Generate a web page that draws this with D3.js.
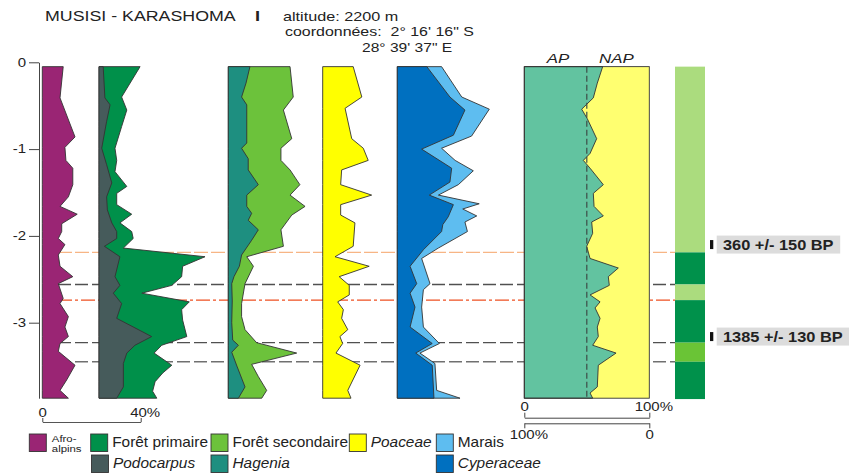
<!DOCTYPE html>
<html>
<head>
<meta charset="utf-8">
<script src="https://cdn.jsdelivr.net/npm/d3@7"></script>
<style>
  body { margin: 0; background: #fff; }
  svg { display: block; font-family: "Liberation Sans", Arial, sans-serif; }
</style>
</head>
<body>
<svg id="chart" width="849" height="475"></svg>
<script>
// [depth (m), percent]
const afroAlpins = [[-0.05,8.5],[-0.41,7.2],[-0.86,13.3],[-0.98,9.2],[-1.13,9.6],[-1.22,12.4],[-1.41,12.4],[-1.55,10.6],[-1.66,7.2],[-1.75,14.2],[-1.86,7.9],[-1.95,7.9],[-2.03,6.5],[-2.10,9.2],[-2.22,6.5],[-2.35,7.2],[-2.47,12.4],[-2.55,6.5],[-2.72,8.5],[-2.78,7.2],[-2.93,10.6],[-3.05,9.2],[-3.16,10.6],[-3.24,7.2],[-3.33,6.5],[-3.49,13.3],[-3.66,9.9],[-3.78,7.2],[-3.87,10.6]];
const foretPrimaire = [[-0.05,16.7],[-0.40,9.2],[-0.55,11.3],[-0.74,9.2],[-0.99,6.5],[-1.13,7.2],[-1.26,6.5],[-1.43,11.3],[-1.51,7.2],[-1.64,7.2],[-1.75,13.3],[-1.85,8.5],[-1.95,13.3],[-2.03,13.9],[-2.14,9.9],[-2.24,43.1],[-2.35,34.0],[-2.47,33.6],[-2.57,29.6],[-2.66,17.4],[-2.76,36.7],[-2.85,33.6],[-2.97,34.0],[-3.16,35.7],[-3.22,29.6],[-3.26,25.5],[-3.35,22.4],[-3.49,29.6],[-3.58,25.9],[-3.68,22.8],[-3.79,21.8],[-3.87,23.5]];
const podocarpus = [[-0.05,1.7],[-0.41,2.4],[-0.49,4.5],[-0.68,3.1],[-0.99,1.1],[-1.18,3.1],[-1.39,5.2],[-1.55,3.1],[-1.70,3.4],[-1.85,5.2],[-1.95,7.2],[-2.03,7.2],[-2.12,2.2],[-2.24,8.5],[-2.47,6.5],[-2.57,8.5],[-2.66,5.8],[-2.78,9.2],[-2.95,7.2],[-3.16,21.4],[-3.26,14.6],[-3.35,11.3],[-3.47,9.9],[-3.74,9.9],[-3.87,7.2]];
const foretSecondaire = [[-0.05,25.1],[-0.40,26.4],[-0.55,22.4],[-0.88,25.8],[-0.99,21.4],[-1.13,21.4],[-1.24,25.1],[-1.41,29.1],[-1.53,25.1],[-1.66,31.2],[-1.76,25.8],[-1.93,21.4],[-2.12,22.4],[-2.24,7.5],[-2.35,10.2],[-2.55,6.8],[-2.78,5.4],[-2.93,5.4],[-3.08,6.8],[-3.23,11.5],[-3.35,27.8],[-3.48,9.5],[-3.62,12.2],[-3.78,15.6],[-3.87,13.6]];
const hagenia = [[-0.05,8.8],[-0.24,7.2],[-0.40,5.4],[-0.49,7.5],[-0.93,7.5],[-0.99,5.4],[-1.11,8.1],[-1.24,8.1],[-1.41,12.2],[-1.53,7.5],[-1.66,7.5],[-1.74,9.5],[-1.82,8.1],[-1.93,12.2],[-2.05,9.5],[-2.22,5.4],[-2.35,4.5],[-2.47,2.3],[-2.55,1.4],[-2.75,1.6],[-3.00,1.4],[-3.20,1.8],[-3.26,4.1],[-3.34,1.4],[-3.50,3.5],[-3.74,6.8],[-3.87,4.1]];
const poaceae = [[-0.05,12.4],[-0.40,15.9],[-0.53,9.1],[-0.88,11.8],[-0.99,16.5],[-1.13,18.5],[-1.24,7.7],[-1.41,7.3],[-1.53,19.9],[-1.64,7.3],[-1.76,7.3],[-1.85,13.1],[-2.12,12.4],[-2.24,5.0],[-2.35,18.9],[-2.47,6.7],[-2.57,10.8],[-2.68,10.8],[-2.76,6.1],[-2.85,8.4],[-2.95,7.7],[-3.08,10.2],[-3.16,7.0],[-3.24,8.1],[-3.35,5.4],[-3.49,15.2],[-3.78,10.2],[-3.87,11.5]];
const marais = [[-0.05,18.0],[-0.40,26.2],[-0.54,37.4],[-0.85,30.2],[-0.99,18.0],[-1.13,23.5],[-1.25,30.9],[-1.41,24.8],[-1.53,16.7],[-1.63,33.3],[-1.69,26.6],[-1.77,32.3],[-1.84,27.5],[-1.95,28.5],[-2.14,16.7],[-2.26,9.9],[-2.55,13.3],[-2.62,10.6],[-2.82,9.9],[-3.05,10.6],[-3.24,17.1],[-3.35,9.2],[-3.47,15.3],[-3.78,16.0],[-3.87,25.5]];
const cyperaceae = [[-0.05,12.0],[-0.40,21.4],[-0.55,27.5],[-0.84,22.8],[-1.00,9.9],[-1.22,22.1],[-1.38,21.4],[-1.53,13.0],[-1.64,22.8],[-1.78,20.7],[-1.87,18.5],[-1.95,18.0],[-2.16,10.6],[-2.35,5.2],[-2.55,7.9],[-2.66,5.2],[-2.82,7.2],[-3.05,5.2],[-3.24,14.2],[-3.35,7.5],[-3.49,14.2],[-3.87,14.9]];
const apPercent = [[-0.05,62.7],[-0.24,58.4],[-0.41,55.2],[-0.54,45.9],[-0.65,50.4],[-0.88,57.9],[-1.05,52.6],[-1.13,47.2],[-1.22,52.6],[-1.41,63.2],[-1.51,55.2],[-1.66,55.8],[-1.77,63.2],[-1.84,53.9],[-1.97,54.7],[-2.12,49.9],[-2.26,52.6],[-2.37,75.2],[-2.47,67.2],[-2.57,68.0],[-2.68,52.6],[-2.76,60.6],[-2.83,56.6],[-2.95,60.6],[-3.05,58.4],[-3.16,59.2],[-3.26,54.7],[-3.35,73.4],[-3.49,59.2],[-3.74,58.4],[-3.81,52.6],[-3.87,54.7]];

const depthTicks = [0, -1, -2, -3];
const zoneBounds = [-0.05, -2.19, -2.56, -2.74, -3.23, -3.45, -3.88];
const zoneKinds = ["light", "dark", "light", "dark", "mid", "dark"];
const eventDepths = [-2.19, -2.56, -2.74, -3.23, -3.45];
const dateLabels = ["360 +/- 150 BP", "1385 +/- 130 BP"];
const dateDepths = [-2.10, -3.16];
const legendRow1 = ["Afro-alpins", "Forêt primaire", "Forêt secondaire", "Poaceae", "Marais"];
const legendRow2 = [null, "Podocarpus", "Hagenia", null, "Cyperaceae"];

const colors = {
  "Afro-alpins": "#9a2574", "Forêt primaire": "#00904a", "Podocarpus": "#465b5b",
  "Forêt secondaire": "#6cc23b", "Hagenia": "#1e8f80", "Poaceae": "#ffff00",
  "Marais": "#5ebdf0", "Cyperaceae": "#0070c0"
};
const italic = new Set(["Podocarpus", "Hagenia", "Poaceae", "Cyperaceae"]);
const zoneColors = { light: "#abdc7e", dark: "#00914b", mid: "#6ac436" };

const svg = d3.select("#chart");
const y = d3.scaleLinear().domain([0, -3.87]).range([62.3, 398.2]);
const pct = d3.scaleLinear().domain([0, 40]).range([0, 98.4]);
const apX = d3.scaleLinear().domain([0, 100]).range([0, 125]);

function label(g, x, yy, s, o = {}) {
  return g.append("text")
    .attr("transform", `translate(${x},${yy}) scale(${o.sx || 1.25},1)`)
    .attr("font-size", o.size || 12)
    .attr("font-weight", o.weight || "normal")
    .attr("font-style", o.style || "normal")
    .attr("text-anchor", o.anchor || "start")
    .attr("fill", o.fill || "#222")
    .text(s);
}

function styleAxis(g, sx) {
  g.attr("font-family", null).attr("font-size", 12);
  g.selectAll("path, line").attr("stroke", "#444");
  g.selectAll("text").attr("fill", "#222").each(function () {
    const t = d3.select(this);
    const x = +t.attr("x") || 0;
    const dx = t.text().includes("%") ? 4 : 0;
    t.attr("x", null).attr("transform", `translate(${x + dx},0) scale(${sx},1)`);
  });
}

// header
label(svg, 45, 21, "MUSISI - KARASHOMA", { size: 14, sx: 1.27 });
label(svg, 255, 21, "I", { size: 14, sx: 1.3, weight: "bold" });
label(svg, 283, 21, "altitude: 2200 m", { sx: 1.35 });
label(svg, 285, 36, "coordonnées:  2° 16' 16\" S", { sx: 1.33 }).attr("xml:space", "preserve");
label(svg, 362, 51.5, "28° 39' 37\" E", { sx: 1.3 });

// horizontal event lines (behind panels)
const lineStyles = [
  { stroke: "#f7b585", dash: "14,3" },
  { stroke: "#505050", dash: "13,4" },
  { stroke: "#ee5022", dash: "14,3,3,3" },
  { stroke: "#505050", dash: "13,4" },
  { stroke: "#707070", dash: "13,4" }
];
svg.append("g").selectAll("line")
  .data(eventDepths)
  .join("line")
  .attr("x1", 58).attr("x2", 675)
  .attr("y1", d => y(d)).attr("y2", d => y(d))
  .attr("stroke", (d, i) => lineStyles[i].stroke)
  .attr("stroke-width", 1.3)
  .attr("stroke-dasharray", (d, i) => lineStyles[i].dash);

// depth axis
const yAxis = svg.append("g").attr("transform", "translate(39,0)")
  .call(d3.axisLeft(y).tickValues(depthTicks).tickFormat(d => String(d)).tickSize(10).tickSizeOuter(0));
styleAxis(yAxis, 1.25);

// pollen curve panels
const area = d3.area()
  .y(d => y(d[0]))
  .x0(0)
  .x1(d => pct(d[1]));

const panels = [
  { left: 42.3, layers: [afroAlpins], names: ["Afro-alpins"] },
  { left: 99, layers: [foretPrimaire, podocarpus], names: ["Forêt primaire", "Podocarpus"] },
  { left: 228.3, layers: [foretSecondaire, hagenia], names: ["Forêt secondaire", "Hagenia"] },
  { left: 322.7, layers: [poaceae], names: ["Poaceae"] },
  { left: 397.3, layers: [marais, cyperaceae], names: ["Marais", "Cyperaceae"] }
];

panels.forEach(p => {
  const g = svg.append("g").attr("transform", `translate(${p.left},0)`);
  p.layers.forEach((data, i) => {
    g.append("path")
      .datum(data)
      .attr("d", area)
      .attr("fill", colors[p.names[i]])
      .attr("stroke", "#333")
      .attr("stroke-width", 0.9)
      .attr("stroke-linejoin", "miter");
  });
});

// 0-40% scale bar
const scaleAxis = svg.append("g").attr("transform", "translate(42.3,422)")
  .call(d3.axisTop(pct).tickValues([0, 40]).tickFormat(d => d ? d + "%" : "0").tickSize(4).tickPadding(1).tickSizeOuter(0));
styleAxis(scaleAxis, 1.25);
scaleAxis.select(".domain").attr("stroke", "#555");

// AP / NAP panel
const ap = svg.append("g").attr("transform", "translate(524.3,0)");
ap.append("rect")
  .attr("x", 0).attr("y", y(-0.05))
  .attr("width", apX(100)).attr("height", y(-3.87) - y(-0.05))
  .attr("fill", "#ffff70");
ap.append("path")
  .datum(apPercent)
  .attr("d", d3.area().y(d => y(d[0])).x0(0).x1(d => apX(d[1])))
  .attr("fill", "#62c3a0")
  .attr("stroke", "#333")
  .attr("stroke-width", 0.9);
ap.append("line")
  .attr("x1", apX(50)).attr("x2", apX(50))
  .attr("y1", y(-0.05)).attr("y2", y(-3.87))
  .attr("stroke", "#3d4d48").attr("stroke-width", 1.2)
  .attr("stroke-dasharray", "6,3");
ap.append("rect")
  .attr("x", 0).attr("y", y(-0.05))
  .attr("width", apX(100)).attr("height", y(-3.87) - y(-0.05))
  .attr("fill", "none").attr("stroke", "#333").attr("stroke-width", 0.9);
label(svg, 546.7, 63.3, "AP", { size: 13, sx: 1.3, style: "italic" });
label(svg, 599, 63.3, "NAP", { size: 13, sx: 1.3, style: "italic" });

const apTop = svg.append("g").attr("transform", "translate(524.3,417.7)")
  .call(d3.axisTop(apX).tickValues([0, 100]).tickFormat(d => d ? d + "%" : "0").tickSize(5).tickPadding(2).tickSizeOuter(0));
styleAxis(apTop, 1.25);
const napX = d3.scaleLinear().domain([100, 0]).range([0, 125]);
const apBottom = svg.append("g").attr("transform", "translate(524.3,423.3)")
  .call(d3.axisBottom(napX).tickValues([100, 0]).tickFormat(d => d ? d + "%" : "0").tickSize(5).tickPadding(2).tickSizeOuter(0));
styleAxis(apBottom, 1.25);

// zone column
const zones = zoneKinds.map((k, i) => ({ kind: k, top: zoneBounds[i], bottom: zoneBounds[i + 1] }));
svg.append("g").selectAll("rect")
  .data(zones)
  .join("rect")
  .attr("x", 675).attr("width", 30)
  .attr("y", d => y(d.top))
  .attr("height", d => y(d.bottom) - y(d.top))
  .attr("fill", d => zoneColors[d.kind]);

// radiocarbon dates
dateLabels.forEach((s, i) => {
  const yc = y(dateDepths[i]);
  const g = svg.append("g");
  g.append("rect").attr("x", 710).attr("y", yc - 4.5).attr("width", 3.3).attr("height", 9).attr("fill", "#111");
  const box = g.append("rect").attr("x", 716.7).attr("y", yc - 9).attr("height", 18).attr("fill", "#dcdcdc");
  const t = label(g, 723, yc + 5.3, s, { size: 14, sx: 1.17, weight: "bold", fill: "#222" });
  const w = t.node().getComputedTextLength() * 1.17;
  box.attr("width", w + 13);
});

// legend
const legend = svg.append("g");
function legendItem(name, x, row) {
  const sy = row === 0 ? 434 : 455;
  legend.append("rect")
    .attr("x", x).attr("y", sy).attr("width", 17).attr("height", 17.5)
    .attr("fill", colors[name]).attr("stroke", "#333").attr("stroke-width", 0.9);
  if (name === "Afro-alpins") {
    label(legend, x + 22.5, sy + 7.5, "Afro-", { size: 9.5, sx: 1.2 });
    label(legend, x + 22.5, sy + 17.5, "alpins", { size: 9.5, sx: 1.2 });
  } else {
    label(legend, x + 21.5, sy + 13.3, name, { size: 14, sx: 1.1, style: italic.has(name) ? "italic" : "normal" });
  }
}
const legendX1 = [29.3, 90.7, 211, 349.3, 436.3];
const legendX2 = [null, 91.5, 211, null, 436.3];
legendRow1.forEach((n, i) => legendItem(n, legendX1[i], 0));
legendRow2.forEach((n, i) => { if (n) legendItem(n, legendX2[i], 1); });
</script>
</body>
</html>
